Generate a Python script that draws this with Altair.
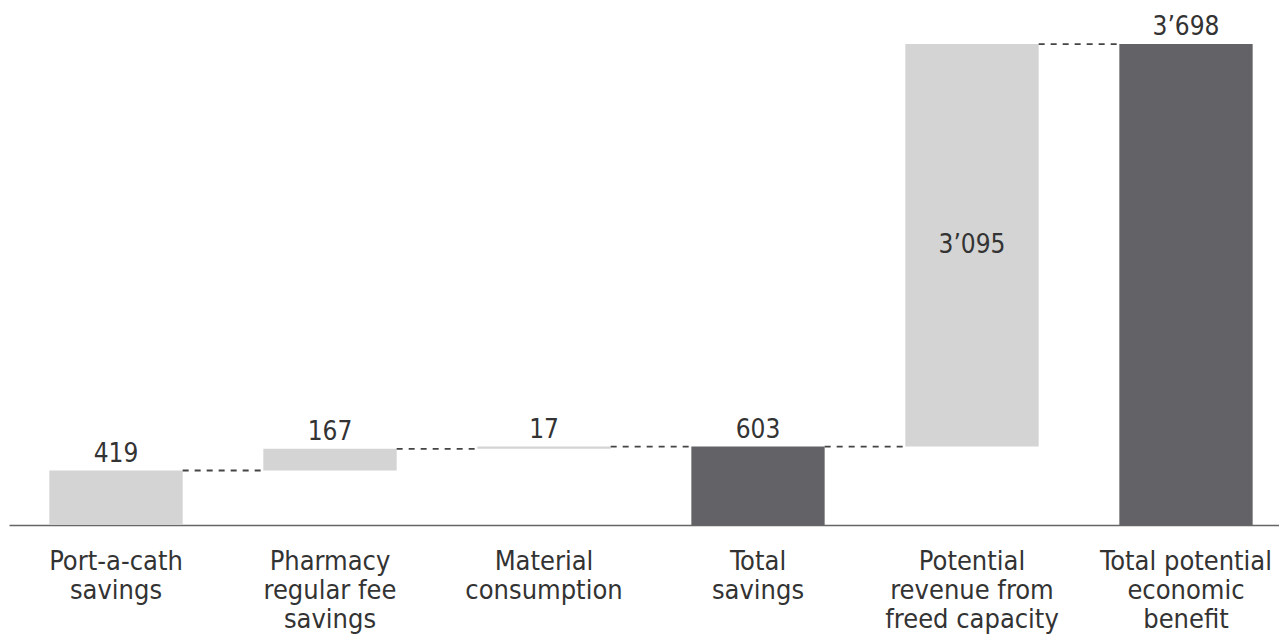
import altair as alt
import pandas as pd

categories = ["Port-a-cath savings", "Pharmacy regular fee savings", "Material consumption",
              "Total savings", "Potential revenue from freed capacity", "Total potential economic benefit"]
axis_labels = ["Port-a-cath|savings", "Pharmacy|regular fee|savings", "Material|consumption",
               "Total|savings", "Potential|revenue from|freed capacity", "Total potential|economic|benefit"]
values = [419, 167, 17, 603, 3095, 3698]
kinds = ["step", "step", "step", "total", "step", "total"]

rows = []
running = 0
for c, lab, v, k in zip(categories, axis_labels, values, kinds):
    if k == "step":
        start, end = running, running + v
    else:
        start, end = 0, v
    running = end
    rows.append({
        "cat": lab, "start": start, "end": end, "mid": (start + end) / 2,
        "kind": k, "label": f"{v:,}".replace(",", "\u2019"),
        "inside": 1 if v == 3095 else 0,
    })
df = pd.DataFrame(rows)

conn = pd.DataFrame([
    {"a": axis_labels[i], "b": axis_labels[i + 1], "level": rows[i]["end"]}
    for i in range(len(rows) - 1)
])

FONT = "DejaVu Sans Condensed"
xscale = alt.Scale(domain=axis_labels, range=[0, 1284], paddingInner=0.377, paddingOuter=0.1885)
yscale = alt.Scale(domain=[0, 3975], nice=False)

x = alt.X("cat:N", scale=xscale, sort=axis_labels, title=None,
          axis=alt.Axis(labelAngle=0, ticks=False, tickSize=0, labelPadding=23,
                        labelFont=FONT, labelFontSize=27, labelColor="#333333",
                        labelLineHeight=29, labelExpr="split(datum.label, '|')",
                        domainColor="#666666", domainWidth=1.5, grid=False,
                        labelLimit=400, labelOverlap=False))

bars = alt.Chart(df).mark_bar().encode(
    x=x,
    y=alt.Y("start:Q", scale=yscale, axis=None),
    y2="end:Q",
    color=alt.Color("kind:N", scale=alt.Scale(domain=["step", "total"],
                                               range=["#d4d4d4", "#636367"]), legend=None),
)

rules = alt.Chart(conn).mark_rule(strokeDash=[6, 6], strokeWidth=1.8, color="#444444").encode(
    x=alt.X("a:N", scale=xscale, bandPosition=1),
    x2=alt.X2("b:N", bandPosition=0),
    y=alt.Y("level:Q", scale=yscale),
)

above = alt.Chart(df).transform_filter("datum.inside == 0").mark_text(
    font=FONT, fontSize=26, color="#333333", baseline="alphabetic", dy=-9
).encode(
    x=alt.X("cat:N", scale=xscale, bandPosition=0.5),
    y=alt.Y("end:Q", scale=yscale),
    text="label:N",
)

inside = alt.Chart(df).transform_filter("datum.inside == 1").mark_text(
    font=FONT, fontSize=26, color="#333333", baseline="middle"
).encode(
    x=alt.X("cat:N", scale=xscale, bandPosition=0.5),
    y=alt.Y("mid:Q", scale=yscale),
    text="label:N",
)

chart = alt.layer(bars, rules, above, inside).properties(
    width=1270, height=517, background="white",
    autosize=alt.AutoSizeParams(type="none"),
    padding={"left": 1, "top": 0, "right": 0, "bottom": 115},
).configure_view(stroke=None)

chart.save("out.html", embed_options={"renderer": "svg", "actions": False})
